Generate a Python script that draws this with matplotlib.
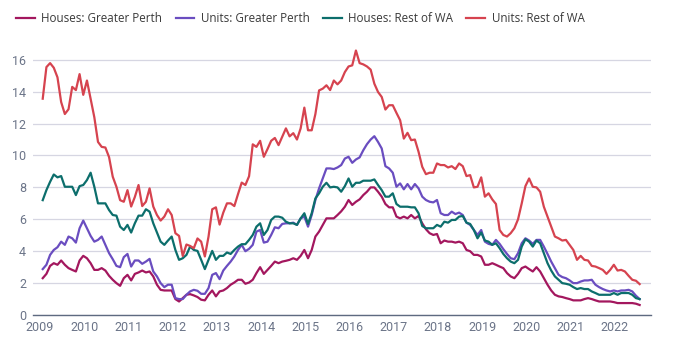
import numpy as np
import matplotlib
matplotlib.use('Agg')
import matplotlib.pyplot as plt

# monthly series, Feb 2009 .. Aug 2022
houses_perth = [2.31, 2.58, 3.08, 3.25, 3.15, 3.42, 3.15, 2.94, 2.83, 2.73,
                3.42, 3.71, 3.56, 3.25, 2.83, 2.83, 2.94, 2.79, 2.46, 2.21,
                2.0, 1.83, 2.31, 2.52, 2.17, 2.58, 2.67, 2.79, 2.67, 2.73,
                2.42, 1.9, 1.58, 1.54, 1.54, 1.54, 1.0, 0.85, 1.06, 1.27,
                1.31, 1.23, 1.13, 0.96, 0.92, 1.27, 1.54, 1.17, 1.48, 1.54,
                1.69, 1.9, 2.04, 2.21, 2.21, 1.96, 2.04, 2.21, 2.63, 3.0,
                2.58, 2.83, 3.08, 3.35, 3.25, 3.35, 3.4, 3.46, 3.56, 3.46,
                3.71, 4.08, 3.56, 4.08, 4.92, 5.23, 5.65, 6.06, 6.06, 6.06,
                6.27, 6.5,
                6.79, 7.21, 6.9, 7.1, 7.25, 7.52, 7.73, 8.0, 8.0, 7.73,
                7.42, 6.96, 6.75, 6.75, 6.17, 6.06, 6.17, 6.06, 6.27, 6.06,
                6.21, 5.75, 5.38, 5.13, 5.02, 5.08, 4.5, 4.67, 4.6, 4.6,
                4.54, 4.6, 4.5, 4.08, 4.0, 3.77, 3.77, 3.67, 3.15, 3.15,
                3.25, 3.15, 3.04, 2.94, 2.63, 2.42, 2.31, 2.58, 2.94, 3.04,
                2.88, 2.73, 3.0, 2.73, 2.31, 1.9, 1.54, 1.27, 1.17, 1.13,
                1.06, 1.0, 0.92, 0.92, 0.92, 1.0, 1.06, 1.0, 0.92, 0.85,
                0.85, 0.85, 0.85, 0.81, 0.75, 0.75, 0.75, 0.75, 0.75, 0.71,
                0.63]

units_perth = [2.88, 3.15, 3.77, 4.08, 4.25, 4.6, 4.4, 4.92, 4.81, 4.54,
               5.44, 5.92, 5.44, 4.96, 4.6, 4.71, 4.92, 4.4, 3.88, 3.5,
               3.08, 3.0, 3.63, 3.83, 3.04, 3.42, 3.42, 3.21, 3.35, 3.52,
               2.73, 2.42, 2.0, 1.75, 1.9, 1.9, 1.06, 1.0, 1.0, 1.27,
               1.48, 1.58, 1.52, 1.33, 1.33, 1.69, 2.52, 2.63, 2.25, 2.79,
               3.08, 3.35, 3.67, 4.08, 4.4, 4.0, 4.15, 4.4, 5.23, 5.33,
               4.54, 4.6, 5.02, 5.5, 5.44, 5.71, 5.75, 5.75, 5.79, 5.65,
               6.06, 6.17, 5.54, 6.27, 7.21, 7.94, 8.56, 9.19, 9.19, 9.15,
               9.25, 9.4,
               9.81, 9.92, 9.54, 9.75, 9.88, 10.33, 10.71, 11.0, 11.21, 10.85,
               10.44, 9.33, 9.19, 8.92, 8.04, 8.25, 7.88, 8.21, 7.88, 8.21,
               7.94, 7.42, 7.21, 7.1, 7.06, 7.21, 6.38, 6.27, 6.27, 6.48,
               6.33, 6.42, 6.27, 5.79, 5.65, 5.33, 5.02, 5.33, 4.6, 4.46,
               4.4, 4.71, 4.46, 4.13, 3.83, 3.56, 3.5, 3.88, 4.5, 4.81,
               4.67, 4.46, 4.71, 4.71, 4.29, 3.83, 3.35, 2.94, 2.52, 2.38,
               2.31, 2.17, 2.0, 2.0, 2.1, 2.17, 2.17, 2.21, 1.9, 1.75,
               1.63, 1.54, 1.48, 1.54, 1.48, 1.54, 1.54, 1.58, 1.48, 1.21,
               1.0]

houses_rest = [7.2, 7.83, 8.35, 8.81, 8.63, 8.71, 8.04, 8.04, 8.04, 7.52,
               8.08, 8.15, 8.46, 8.92, 8.04, 7.0, 7.0, 7.0, 6.58, 6.27,
               6.23, 5.54, 5.33, 5.65, 5.17, 5.75, 6.23, 6.23, 6.63, 6.48,
               5.75, 5.17, 4.6, 4.4, 4.67, 4.92, 4.08, 3.46, 3.56, 3.77,
               4.29, 4.08, 4.02, 3.46, 2.88, 3.46, 4.02, 3.46, 3.71, 3.71,
               3.92, 3.83, 4.08, 4.29, 4.44, 4.44, 4.71, 5.02, 5.54, 5.75,
               5.02, 5.33, 5.96, 6.17, 6.17, 6.1, 5.85, 5.75, 5.75, 5.65,
               6.06, 6.38, 5.71, 6.38, 7.31, 7.63, 8.04, 8.29, 8.0, 8.04,
               8.0, 7.73,
               8.08, 8.56, 8.04, 8.29, 8.29, 8.42, 8.42, 8.42, 8.5, 8.15,
               7.83, 7.42, 7.42, 7.63, 6.96, 6.79, 6.79, 6.79, 6.75, 6.75,
               6.38, 5.58, 5.44, 5.44, 5.44, 5.65, 5.54, 5.85, 5.79, 5.96,
               5.96, 6.17, 6.21, 5.79, 5.71, 5.33, 4.81, 5.17, 4.67, 4.6,
               4.4, 4.5, 4.19, 3.83, 3.56, 3.35, 3.25, 3.46, 4.29, 4.75,
               4.6, 4.29, 4.67, 4.5, 3.88, 3.25, 2.79, 2.42, 2.21, 2.0,
               1.96, 1.9, 1.75, 1.63, 1.69, 1.63, 1.63, 1.48, 1.38, 1.27,
               1.27, 1.27, 1.27, 1.38, 1.27, 1.38, 1.38, 1.38, 1.27, 1.06,
               1.0]

units_rest = [13.56, 15.54, 15.79, 15.5, 14.9, 13.35, 12.6, 12.9, 14.3, 14.1,
              15.1, 13.8, 14.7, 13.56, 12.4, 10.85, 10.54, 10.5, 9.9, 8.67,
              8.04, 7.2, 7.1, 7.83, 6.8, 7.4, 8.15, 6.83, 7.1, 7.94,
              6.8, 6.27, 5.92, 6.17, 6.63, 6.27, 5.13, 4.96, 3.7, 4.42,
              4.33, 4.19, 4.8, 4.6, 3.67, 4.92, 6.63, 6.75, 5.67, 6.42,
              7.0, 7.0, 6.83, 7.58, 8.3, 8.15, 8.7, 10.7, 10.54, 10.92,
              9.92, 10.4, 10.92, 11.1, 10.65, 11.17, 11.7, 11.2, 11.4, 11.0,
              11.7, 13.0, 11.58, 11.58, 12.6, 14.08, 14.19, 14.4, 14.1, 14.7,
              14.46, 14.7,
              15.23, 15.58, 15.65, 16.58, 15.79, 15.71, 15.58, 15.38, 14.5, 13.98,
              13.67, 12.88, 13.15, 13.15, 12.67, 12.21, 11.06, 11.42, 10.96, 11.0,
              10.23, 9.29, 8.83, 8.92, 8.92, 9.5, 9.4, 9.4, 9.25, 9.33,
              9.15, 9.5, 9.33, 8.71, 8.77, 8.0, 8.04, 8.63, 7.42, 7.63,
              7.25, 6.96, 5.33, 5.02, 4.92, 5.13, 5.44, 6.0, 7.0, 8.08,
              8.56, 8.04, 8.0, 7.73, 6.79, 6.17, 5.54, 4.92, 4.81, 4.67,
              4.71, 4.4, 4.08, 3.46, 3.71, 3.46, 3.42, 3.08, 3.04, 2.94,
              2.83, 2.58, 2.83, 3.15, 2.79, 2.83, 2.73, 2.46, 2.21, 2.15,
              1.94]

labels = ['Houses: Greater Perth', 'Units: Greater Perth',
          'Houses: Rest of WA', 'Units: Rest of WA']
colors = ['#A3175E', '#6A4DC0', '#0C6E6C', '#D6434F']
years = list(range(2009, 2023))

n = len(houses_perth)
t = 2009 + (np.arange(n) + 0.75) / 12.0

plt.rcParams['font.family'] = ['Roboto', 'DejaVu Sans']

fig = plt.figure(figsize=[6.8, 3.52], dpi=100)
ax = fig.add_axes([0.0485, 0.105, 0.9085, 0.766])

series = [houses_perth, units_perth, houses_rest, units_rest]
for s, c, l in zip(series, colors, labels):
    ax.plot(t, s, color=c, lw=1.6, label=l, solid_joinstyle='round')

ax.set_xlim(2008.842, 2022.814)
ax.set_ylim(0, 16.9)
ax.set_yticks([0, 2, 4, 6, 8, 10, 12, 14, 16])
ax.set_xticks(years)
ax.set_xticklabels([str(y) for y in years])
ax.grid(axis='y', color='#D6D6E2', lw=0.9)
ax.set_axisbelow(True)
for side in ['top', 'right', 'left']:
    ax.spines[side].set_visible(False)
ax.spines['bottom'].set_color('#5E6A80')
ax.spines['bottom'].set_linewidth(1.0)
ax.tick_params(axis='both', length=0, colors='#6B7488', labelsize=9)
ax.tick_params(axis='x', pad=4)
ax.tick_params(axis='y', pad=5)

leg = fig.legend(loc='upper left', bbox_to_anchor=(0.012, 0.99), ncol=4, frameon=False,
                 prop={'family': 'Open Sans', 'size': 8.4},
                 handlelength=1.6, handletextpad=0.55, columnspacing=1.15,
                 labelcolor='#3A3A3A', borderaxespad=0.3)

fig.savefig('out.png', dpi=100)
